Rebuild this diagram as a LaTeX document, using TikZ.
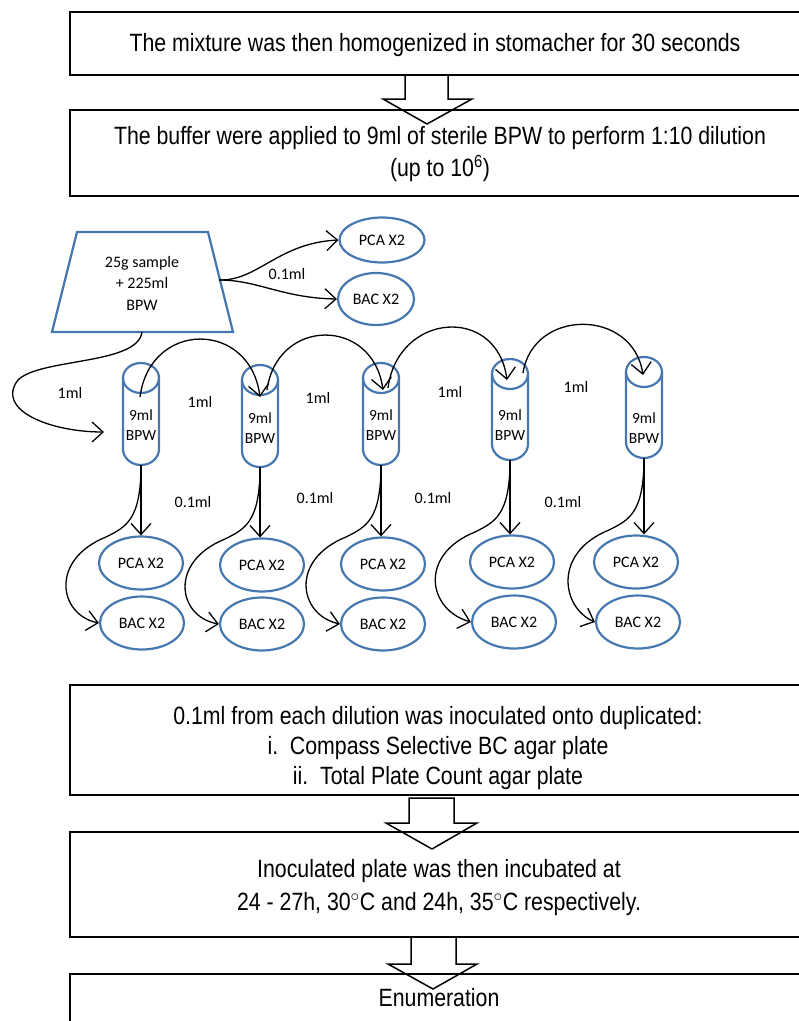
\documentclass[tikz,border=0pt]{standalone}
\usepackage{fontspec}
\setmainfont{Liberation Sans}
\newfontfamily\boxfont[FakeStretch=0.852]{Liberation Sans}
\newfontfamily\calfont{Carlito}
\usetikzlibrary{arrows.meta,shapes.geometric}
\definecolor{tubeblue}{RGB}{70,120,175}
\newcommand\tubeat[5]{%
  \draw[tube] (#2-18,#3+15) -- (#2-18,#4-16) arc[start angle=180,end angle=0,x radius=18,y radius=16] -- (#2+18,#3+15);
  \draw[tube] (#2,#3+15) ellipse[x radius=18,y radius=15];
  \node[tubetext] (#1) at (#2,#5) {9ml\\BPW};
  \coordinate (#1b) at (#2,#4);}
\newcommand\lowlinks[5]{%
  \draw[link] (#1b) -- (#2.north -| #1b);
  \draw[link] (#1b) .. controls (#4,#5+55) and (#4-15,#5+62) .. (#4-35,#5+72)
     .. controls (#4-92,#5+95) and (#4-82,#5+150) .. (#3.west);}
\begin{document}
\begin{tikzpicture}[x=1pt,y=-1pt,
  box/.style={draw=black,line width=1.8pt,minimum width=736pt,inner sep=0pt},
  boxtext/.style={font=\boxfont\fontsize{25}{31}\selectfont,align=center,inner sep=0pt},
  blockarrow/.style={draw=black,line width=1.5pt,line join=miter},
  plate/.style={ellipse,draw=tubeblue,line width=2.2pt,minimum width=84pt,minimum height=53pt,font=\calfont\fontsize{16}{19}\selectfont,inner sep=0pt},
  tube/.style={draw=tubeblue,line width=2.2pt},
  tubetext/.style={font=\calfont\fontsize{15.5}{20}\selectfont,align=center,inner sep=0pt},
  link/.style={draw=black,line width=1.3pt,-{Straight Barb[length=11pt,width=20pt]}},
  lbl/.style={font=\calfont\fontsize{16}{19}\selectfont,inner sep=0pt}]
\useasboundingbox (0,0) rectangle (799,1021);
\clip (0,0) rectangle (799,1021);
% boxes
\node[box,minimum height=63pt] (b1) at (438,43.5) {};
\node[boxtext] (b1t) at (435,45) {The mixture was then homogenized in stomacher for 30 seconds};
\node[box,minimum height=86pt] (b2) at (438,153) {};
\node[boxtext,font=\boxfont\fontsize{25}{32}\selectfont] (b2t) at (440,154) {The buffer were applied to 9ml of sterile BPW to perform 1:10 dilution\\(up to 10\textsuperscript{6})};
\node[box,minimum height=110pt] (b3) at (438,740) {};
\node[boxtext,font=\boxfont\fontsize{25}{30}\selectfont] (b3t) at (438,748) {0.1ml from each dilution was inoculated onto duplicated:\\i.\ \ Compass Selective BC agar plate\\ii.\ \ Total Plate Count agar plate};
\node[box,minimum height=105pt] (b4) at (438,884.5) {};
\node[boxtext,font=\boxfont\fontsize{25}{33}\selectfont] (b4t) at (439,888) {Inoculated plate was then incubated at\\24 - 27h, 30$^{\circ}$C and 24h, 35$^{\circ}$C respectively.};
\node[box,minimum height=90pt,anchor=north] (b5) at (438,973) {};
\node[boxtext] (b5t) at (439,998) {Enumeration};
% hollow arrows
\draw[blockarrow] (405,75) -- (405,99) -- (383,99) -- (427,124) -- (472,99) -- (448,99) -- (448,75);
\draw[blockarrow] (409,798) -- (409,823) -- (386,823) -- (432,849) -- (477,823) -- (454,823) -- (454,798) -- cycle;
\draw[blockarrow] (411,937) -- (411,964) -- (388,964) -- (433,989) -- (477,964) -- (456,964) -- (456,937);
% sample trapezoid
\draw[tube] (77,232) -- (208,232) -- (233,332) -- (52,332) -- cycle;
\node[tubetext,font=\calfont\fontsize{16}{21.5}\selectfont] (trap) at (142,283) {25g sample\\+ 225ml\\BPW};
\coordinate (trapR) at (219,280);
\coordinate (trapB) at (142,332);
\node[plate,minimum width=85pt,minimum height=45pt] (pca0) at (382,240) {PCA X2};
\node[plate,minimum width=76pt,minimum height=52pt] (bac0) at (376,299) {BAC X2};
\draw[link] (trapR) .. controls (258,281) and (278,243) .. (pca0.west);
\draw[link] (trapR) .. controls (258,280) and (282,298) .. (bac0.west);
\node[lbl] (l0) at (287,274) {0.1ml};
% tubes
\tubeat{t1}{141}{363}{465}{425}
\tubeat{t2}{260}{365}{467}{428}
\tubeat{t3}{381}{363}{465}{425}
\tubeat{t4}{510}{359}{460}{425}
\tubeat{t5}{644}{357}{458}{428}
\coordinate (t1in) at (104,432);
\draw[link] (trapB) .. controls (138,365) and (40,358) .. (18,380) .. controls (-5,410) and (50,432) .. (t1in);
\node[lbl] (m0) at (70,393) {1ml};
% transfer arcs
\coordinate (a1s) at (140,397); \coordinate (a1e) at (260,397);
\coordinate (a2s) at (267,390); \coordinate (a2e) at (383,390);
\coordinate (a3s) at (388,388); \coordinate (a3e) at (507,380);
\coordinate (a4s) at (523,373); \coordinate (a4e) at (643,375);
\draw[link] (a1s) .. controls (150,320) and (250,320) .. (a1e);
\draw[link] (a2s) .. controls (277,317) and (373,317) .. (a2e);
\draw[link] (a3s) .. controls (398,312) and (497,305) .. (a3e);
\draw[link] (a4s) .. controls (533,308) and (633,308) .. (a4e);
\node[lbl] (m1) at (200,402) {1ml};
\node[lbl] (m2) at (318,398) {1ml};
\node[lbl] (m3) at (450,392) {1ml};
\node[lbl] (m4) at (576,387) {1ml};
% plates
\node[plate] (p1) at (141,563) {PCA X2};
\node[plate] (q1) at (142,623) {BAC X2};
\node[plate] (p2) at (262,565) {PCA X2};
\node[plate] (q2) at (262,624) {BAC X2};
\node[plate] (p3) at (383,564) {PCA X2};
\node[plate] (q3) at (383,624) {BAC X2};
\node[plate] (p4) at (512,562) {PCA X2};
\node[plate] (q4) at (514,622) {BAC X2};
\node[plate] (p5) at (636,562) {PCA X2};
\node[plate] (q5) at (638,622) {BAC X2};
\lowlinks{t1}{p1}{q1}{141}{465}
\lowlinks{t2}{p2}{q2}{260}{467}
\lowlinks{t3}{p3}{q3}{381}{465}
\lowlinks{t4}{p4}{q4}{510}{460}
\lowlinks{t5}{p5}{q5}{644}{458}
\node[lbl] (n1) at (193,502) {0.1ml};
\node[lbl] (n2) at (315,498) {0.1ml};
\node[lbl] (n3) at (433,498) {0.1ml};
\node[lbl] (n4) at (563,502) {0.1ml};
\end{tikzpicture}
\end{document}
